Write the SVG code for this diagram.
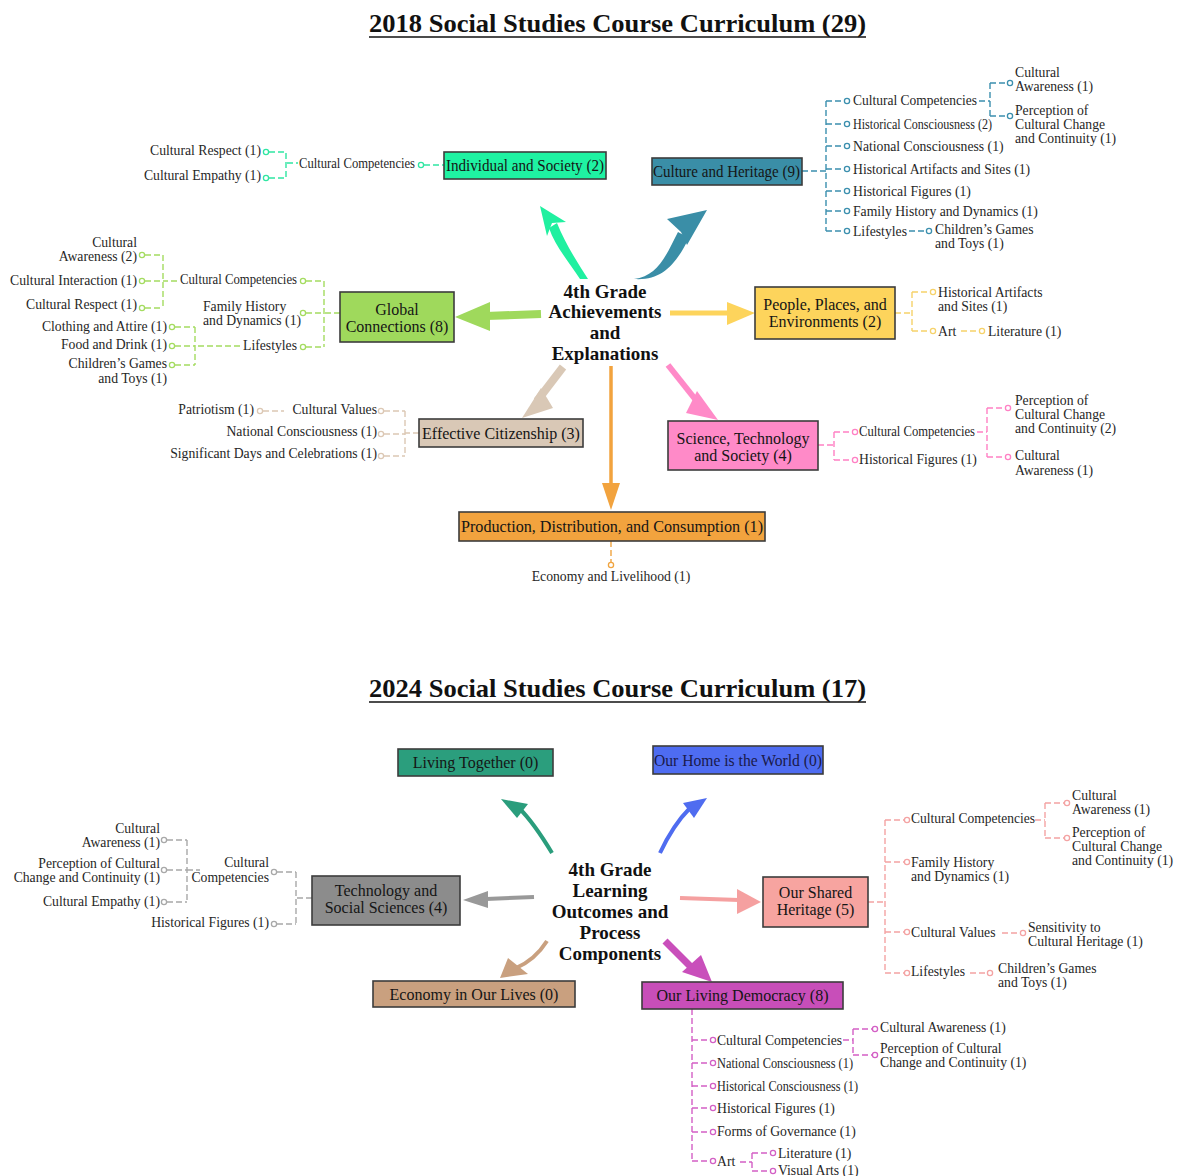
<svg xmlns="http://www.w3.org/2000/svg" width="1179" height="1176" viewBox="0 0 1179 1176">
<style>
text{font-family:"Liberation Serif","Times New Roman",serif;fill:#262626}
.t{font-size:13.7px}
.e{text-anchor:end}
.m{text-anchor:middle}
.b{font-size:16px;fill:#151515}
.h{font-weight:bold;font-size:19px;fill:#111;text-anchor:middle}
.ti{font-weight:bold;font-size:26px;fill:#111}
.box{stroke:#3c3c3c;stroke-width:1.6}
.d{fill:none;stroke-width:1.4;stroke-dasharray:6 3}
.o{fill:#fff;stroke-width:1.3}
.s1{stroke:#2fe6a2}.s2{stroke:#3b8fae}.s3{stroke:#a4dc60}.s4{stroke:#f6d26a}.s5{stroke:#dcc8b4}.s6{stroke:#ff80c4}.s7{stroke:#f0a440}
.s9{stroke:#a8a8a8}.s10{stroke:#f4a3a3}.s12{stroke:#d35fc5}
</style>

<!-- Titles -->
<g id="title-2018">
<text class="ti" x="369" y="32" textLength="497" lengthAdjust="spacingAndGlyphs">2018 Social Studies Course Curriculum (29)</text>
<line x1="369" y1="37" x2="866" y2="37" stroke="#111" stroke-width="1.6"/>
</g>
<g id="title-2024">
<text class="ti" x="369" y="697" textLength="497" lengthAdjust="spacingAndGlyphs">2024 Social Studies Course Curriculum (17)</text>
<line x1="369" y1="702" x2="866" y2="702" stroke="#111" stroke-width="1.6"/>
</g>

<g id="connectors">
<!-- 2018 arrows -->
<path d="M580,279 C569,262 555,246 549,228 L557,223 C565,243 577,262 588,279 Z" fill="#20f0a0"/>
<polygon points="540,206 566,222 552,223 547,236" fill="#20f0a0"/>
<path d="M634,279 C657,276 665,258 678,232 L689,238 C676,264 662,281 634,279 Z" fill="#3a8ea7"/>
<polygon points="707,210 667,219 681,232 687,245" fill="#3a8ea7"/>
<path d="M541,314 L486,316" stroke="#9fd95c" stroke-width="8" fill="none"/>
<polygon points="455,317 490,302 490,331" fill="#9fd95c"/>
<path d="M670,313 L729,313" stroke="#fdd45c" stroke-width="5" fill="none"/>
<polygon points="755,313 727,302 727,325" fill="#fdd45c"/>
<path d="M563,367 L537,401" stroke="#d9c8b6" stroke-width="8" fill="none"/>
<polygon points="522,418 541,388 553,408" fill="#d9c8b6"/>
<path d="M611,366 V486" stroke="#f2a33e" stroke-width="3.5" fill="none"/>
<polygon points="611,510 602,483 620,483" fill="#f2a33e"/>
<path d="M668,365 L699,404" stroke="#ff8ac8" stroke-width="6" fill="none"/>
<polygon points="718,420 697,391 686,413" fill="#ff8ac8"/>

<!-- 2018 branches -->
<path class="d s1" d="M424,165H444 M287,163H298 M269,152H286V178H269"/>
<circle class="o s1" cx="421" cy="165" r="2.6"/><circle class="o s1" cx="266" cy="152" r="2.6"/><circle class="o s1" cx="266" cy="178" r="2.6"/>

<path class="d s3" d="M340,313H324 M324,281V347 M306,281H324 M306,313H324 M306,347H324 M177,281H163 M163,255V308 M145,255H163 M145,281H163 M145,308H163 M240,346H195 M195,327V365 M175,327H195 M175,346H195 M175,365H195"/>
<circle class="o s3" cx="303" cy="281" r="2.6"/><circle class="o s3" cx="303" cy="313" r="2.6"/><circle class="o s3" cx="303" cy="347" r="2.6"/>
<circle class="o s3" cx="142" cy="255" r="2.6"/><circle class="o s3" cx="142" cy="281" r="2.6"/><circle class="o s3" cx="142" cy="308" r="2.6"/>
<circle class="o s3" cx="172" cy="327" r="2.6"/><circle class="o s3" cx="172" cy="346" r="2.6"/><circle class="o s3" cx="172" cy="365" r="2.6"/>

<path class="d s2" d="M802,171H826 M826,101V231 M826,101H844 M826,124H844 M826,146H844 M826,169H844 M826,191H844 M826,211H844 M826,231H844 M909,231H926 M979,101H990 M990,83V116 M990,83H1007 M990,116H1007"/>
<circle class="o s2" cx="847" cy="101" r="2.6"/><circle class="o s2" cx="847" cy="124" r="2.6"/><circle class="o s2" cx="847" cy="146" r="2.6"/><circle class="o s2" cx="847" cy="169" r="2.6"/><circle class="o s2" cx="847" cy="191" r="2.6"/><circle class="o s2" cx="847" cy="211" r="2.6"/><circle class="o s2" cx="847" cy="231" r="2.6"/>
<circle class="o s2" cx="929" cy="231" r="2.6"/><circle class="o s2" cx="1010" cy="83" r="2.6"/><circle class="o s2" cx="1010" cy="116" r="2.6"/>

<path class="d s4" d="M895,313H912 M912,292V331 M912,292H930 M912,331H930 M961,331H979"/>
<circle class="o s4" cx="933" cy="292" r="2.6"/><circle class="o s4" cx="933" cy="331" r="2.6"/><circle class="o s4" cx="982" cy="331" r="2.6"/>

<path class="d s5" d="M419,433H405 M405,411V456 M384,411H405 M384,434H405 M384,456H405 M263,411H284"/>
<circle class="o s5" cx="381" cy="411" r="2.6"/><circle class="o s5" cx="381" cy="434" r="2.6"/><circle class="o s5" cx="381" cy="456" r="2.6"/><circle class="o s5" cx="260" cy="411" r="2.6"/>

<path class="d s6" d="M818,445H834 M834,432V460 M834,432H852 M834,460H852 M977,432H987 M987,408V457 M987,408H1005 M987,457H1005"/>
<circle class="o s6" cx="855" cy="432" r="2.6"/><circle class="o s6" cx="855" cy="460" r="2.6"/><circle class="o s6" cx="1008" cy="408" r="2.6"/><circle class="o s6" cx="1008" cy="457" r="2.6"/>

<path class="d s7" d="M611,541V562"/>
<circle class="o s7" cx="611" cy="565" r="2.6"/>

<!-- 2024 arrows -->
<path d="M552,853 C543,838 533,822 519,808" stroke="#2a9d7c" stroke-width="4" fill="none"/>
<polygon points="501,799 528,804 517,818" fill="#2a9d7c"/>
<path d="M660,853 C667,838 676,822 690,808" stroke="#4f6cf0" stroke-width="4" fill="none"/>
<polygon points="707,798 683,803 694,818" fill="#4f6cf0"/>
<path d="M534,897 L486,899" stroke="#999" stroke-width="4" fill="none"/>
<polygon points="463,900 488,891 488,908" fill="#999"/>
<path d="M680,898 L739,900" stroke="#f5a0a0" stroke-width="4" fill="none"/>
<polygon points="761,902 737,889 737,914" fill="#f5a0a0"/>
<path d="M547,941 C540,952 530,962 516,968" stroke="#c9a07f" stroke-width="4" fill="none"/>
<polygon points="500,978 508,958 528,974" fill="#c9a07f"/>
<path d="M665,941 L692,968" stroke="#c94fbb" stroke-width="7" fill="none"/>
<polygon points="712,982 701,955 682,972" fill="#c94fbb"/>

<!-- 2024 branches -->
<path class="d s9" d="M312,898H296 M296,872V924 M277,872H296 M277,924H296 M187,870H200 M187,840V902 M167,840H187 M167,870H187 M167,902H187"/>
<circle class="o s9" cx="274" cy="872" r="2.6"/><circle class="o s9" cx="274" cy="924" r="2.6"/><circle class="o s9" cx="164" cy="840" r="2.6"/><circle class="o s9" cx="164" cy="870" r="2.6"/><circle class="o s9" cx="164" cy="902" r="2.6"/>

<path class="d s10" d="M868,902H885 M885,820V973 M885,820H904 M885,862H904 M885,932H904 M885,973H904 M1002,933H1020 M970,973H987 M1035,820H1045 M1045,803V838 M1045,803H1064 M1045,838H1064"/>
<circle class="o s10" cx="907" cy="820" r="2.6"/><circle class="o s10" cx="907" cy="862" r="2.6"/><circle class="o s10" cx="907" cy="932" r="2.6"/><circle class="o s10" cx="907" cy="973" r="2.6"/>
<circle class="o s10" cx="1023" cy="933" r="2.6"/><circle class="o s10" cx="990" cy="973" r="2.6"/><circle class="o s10" cx="1067" cy="803" r="2.6"/><circle class="o s10" cx="1067" cy="838" r="2.6"/>

<path class="d s12" d="M692,1009V1161 M692,1040H710 M692,1063H710 M692,1086H710 M692,1108H710 M692,1132H710 M692,1161H710 M843,1040H853 M853,1029V1055 M853,1029H872 M853,1055H872 M740,1162H752 M752,1153V1171 M752,1153H770 M752,1171H770"/>
<circle class="o s12" cx="713" cy="1040" r="2.6"/><circle class="o s12" cx="713" cy="1063" r="2.6"/><circle class="o s12" cx="713" cy="1086" r="2.6"/><circle class="o s12" cx="713" cy="1108" r="2.6"/><circle class="o s12" cx="713" cy="1132" r="2.6"/><circle class="o s12" cx="713" cy="1161" r="2.6"/>
<circle class="o s12" cx="875" cy="1029" r="2.6"/><circle class="o s12" cx="875" cy="1055" r="2.6"/><circle class="o s12" cx="773" cy="1153" r="2.6"/><circle class="o s12" cx="773" cy="1171" r="2.6"/>
</g>

<!-- 2018 nodes -->
<g id="center-2018">
<text class="h" x="605" y="298">4th Grade</text>
<text class="h" x="605" y="318">Achievements</text>
<text class="h" x="605" y="339">and</text>
<text class="h" x="605" y="360">Explanations</text>
</g>

<g id="individual-society">
<rect class="box" x="444" y="152" width="162" height="27" fill="#1ff2a2"/>
<text class="b" x="446" y="171" textLength="158" lengthAdjust="spacingAndGlyphs">Individual and Society (2)</text>
</g>
<g id="individual-leaves">
<text class="t e" x="415" y="168" textLength="116" lengthAdjust="spacingAndGlyphs">Cultural Competencies</text>
<text class="t e" x="261" y="155">Cultural Respect (1)</text>
<text class="t e" x="261" y="180">Cultural Empathy (1)</text>
</g>

<g id="culture-heritage">
<rect class="box" x="652" y="158" width="150" height="27" fill="#3a8ea7"/>
<text class="b" x="653" y="177" textLength="147" lengthAdjust="spacingAndGlyphs">Culture and Heritage (9)</text>
</g>
<g id="culture-leaves">
<text class="t" x="853" y="104.5" textLength="124" lengthAdjust="spacingAndGlyphs">Cultural Competencies</text>
<text class="t" x="853" y="128.5" textLength="139" lengthAdjust="spacingAndGlyphs">Historical Consciousness (2)</text>
<text class="t" x="853" y="150.5">National Consciousness (1)</text>
<text class="t" x="853" y="173.5">Historical Artifacts and Sites (1)</text>
<text class="t" x="853" y="195.5">Historical Figures (1)</text>
<text class="t" x="853" y="215.5">Family History and Dynamics (1)</text>
<text class="t" x="853" y="235.5">Lifestyles</text>
<text class="t" x="935" y="234">Children’s Games</text>
<text class="t" x="935" y="248">and Toys (1)</text>
<text class="t" x="1015" y="77">Cultural</text>
<text class="t" x="1015" y="91">Awareness (1)</text>
<text class="t" x="1015" y="115">Perception of</text>
<text class="t" x="1015" y="129">Cultural Change</text>
<text class="t" x="1015" y="143">and Continuity (1)</text>
</g>

<g id="global-connections">
<rect class="box" x="340" y="292" width="114" height="50" fill="#9fd95c"/>
<text class="b m" x="397" y="314.5">Global</text>
<text class="b m" x="397" y="331.5">Connections (8)</text>
</g>
<g id="global-leaves">
<text class="t e" x="297" y="283.5" textLength="117" lengthAdjust="spacingAndGlyphs">Cultural Competencies</text>
<text class="t" x="203" y="310.5">Family History</text>
<text class="t" x="203" y="324.5">and Dynamics (1)</text>
<text class="t e" x="297" y="349.5">Lifestyles</text>
<text class="t e" x="137" y="246.5">Cultural</text>
<text class="t e" x="137" y="260.5">Awareness (2)</text>
<text class="t e" x="137" y="285">Cultural Interaction (1)</text>
<text class="t e" x="137" y="308.5">Cultural Respect (1)</text>
<text class="t e" x="167" y="330.5">Clothing and Attire (1)</text>
<text class="t e" x="167" y="348.5">Food and Drink (1)</text>
<text class="t e" x="167" y="367.5">Children’s Games</text>
<text class="t e" x="167" y="382.5">and Toys (1)</text>
</g>

<g id="people-places">
<rect class="box" x="755" y="287" width="140" height="52" fill="#fdd45c"/>
<text class="b m" x="825" y="310">People, Places, and</text>
<text class="b m" x="825" y="327">Environments (2)</text>
</g>
<g id="people-leaves">
<text class="t" x="938" y="296.5">Historical Artifacts</text>
<text class="t" x="938" y="310.5">and Sites (1)</text>
<text class="t" x="938" y="335.5">Art</text>
<text class="t" x="988" y="335.5">Literature (1)</text>
</g>

<g id="effective-citizenship">
<rect class="box" x="419" y="419" width="164" height="28" fill="#d9c8b6"/>
<text class="b m" x="501" y="439">Effective Citizenship (3)</text>
</g>
<g id="effective-leaves">
<text class="t e" x="377" y="413.5">Cultural Values</text>
<text class="t e" x="254" y="413.5">Patriotism (1)</text>
<text class="t e" x="377" y="436">National Consciousness (1)</text>
<text class="t e" x="377" y="458">Significant Days and Celebrations (1)</text>
</g>

<g id="science-technology">
<rect class="box" x="668" y="421" width="150" height="49" fill="#ff8ac8"/>
<text class="b m" x="743" y="444">Science, Technology</text>
<text class="b m" x="743" y="461">and Society (4)</text>
</g>
<g id="science-leaves">
<text class="t" x="859" y="436" textLength="116" lengthAdjust="spacingAndGlyphs">Cultural Competencies</text>
<text class="t" x="859" y="464">Historical Figures (1)</text>
<text class="t" x="1015" y="405">Perception of</text>
<text class="t" x="1015" y="419">Cultural Change</text>
<text class="t" x="1015" y="433">and Continuity (2)</text>
<text class="t" x="1015" y="460">Cultural</text>
<text class="t" x="1015" y="475">Awareness (1)</text>
</g>

<g id="production">
<rect class="box" x="459" y="512" width="306" height="29" fill="#f2a33e"/>
<text class="b" x="461" y="531.5" textLength="302" lengthAdjust="spacingAndGlyphs">Production, Distribution, and Consumption (1)</text>
</g>
<g id="production-leaves">
<text class="t m" x="611" y="580.5">Economy and Livelihood (1)</text>
</g>

<!-- 2024 nodes -->
<g id="center-2024">
<text class="h" x="610" y="876">4th Grade</text>
<text class="h" x="610" y="897">Learning</text>
<text class="h" x="610" y="918">Outcomes and</text>
<text class="h" x="610" y="939">Process</text>
<text class="h" x="610" y="960">Components</text>
</g>

<g id="living-together">
<rect class="box" x="398" y="749" width="155" height="27" fill="#2b9e7d"/>
<text class="b m" x="475.5" y="767.5">Living Together (0)</text>
</g>
<g id="our-home">
<rect class="box" x="653" y="746" width="170" height="28" fill="#4e6cf1"/>
<text class="b" x="654" y="765.5" textLength="168" lengthAdjust="spacingAndGlyphs" style="fill:#1a1a4a">Our Home is the World (0)</text>
</g>
<g id="technology-social">
<rect class="box" x="312" y="876" width="148" height="49" fill="#8c8c8c"/>
<text class="b m" x="386" y="896">Technology and</text>
<text class="b m" x="386" y="912.5">Social Sciences (4)</text>
</g>
<g id="technology-leaves">
<text class="t e" x="269" y="867">Cultural</text>
<text class="t e" x="269" y="881.5">Competencies</text>
<text class="t e" x="269" y="927">Historical Figures (1)</text>
<text class="t e" x="160" y="832.5">Cultural</text>
<text class="t e" x="160" y="846.5">Awareness (1)</text>
<text class="t e" x="160" y="867.5">Perception of Cultural</text>
<text class="t e" x="160" y="882">Change and Continuity (1)</text>
<text class="t e" x="160" y="906">Cultural Empathy (1)</text>
</g>
<g id="shared-heritage">
<rect class="box" x="763" y="877" width="105" height="50" fill="#f7a4a0"/>
<text class="b m" x="815.5" y="897.5">Our Shared</text>
<text class="b m" x="815.5" y="914.5">Heritage (5)</text>
</g>
<g id="shared-leaves">
<text class="t" x="911" y="822.5" textLength="124" lengthAdjust="spacingAndGlyphs">Cultural Competencies</text>
<text class="t" x="911" y="866.5">Family History</text>
<text class="t" x="911" y="880.5">and Dynamics (1)</text>
<text class="t" x="911" y="937">Cultural Values</text>
<text class="t" x="1028" y="931.5">Sensitivity to</text>
<text class="t" x="1028" y="946">Cultural Heritage (1)</text>
<text class="t" x="911" y="975.5">Lifestyles</text>
<text class="t" x="998" y="972.5">Children’s Games</text>
<text class="t" x="998" y="986.5">and Toys (1)</text>
<text class="t" x="1072" y="799.5">Cultural</text>
<text class="t" x="1072" y="813.5">Awareness (1)</text>
<text class="t" x="1072" y="836.5">Perception of</text>
<text class="t" x="1072" y="850.5">Cultural Change</text>
<text class="t" x="1072" y="864.5">and Continuity (1)</text>
</g>
<g id="economy-lives">
<rect class="box" x="373" y="981" width="202" height="26" fill="#c9a07f"/>
<text class="b m" x="474" y="999.5">Economy in Our Lives (0)</text>
</g>
<g id="living-democracy">
<rect class="box" x="642" y="982" width="201" height="27" fill="#c84eb9"/>
<text class="b m" x="742.5" y="1001">Our Living Democracy (8)</text>
</g>
<g id="democracy-leaves">
<text class="t" x="717" y="1044.5" textLength="125" lengthAdjust="spacingAndGlyphs">Cultural Competencies</text>
<text class="t" x="717" y="1067.5" textLength="136" lengthAdjust="spacingAndGlyphs">National Consciousness (1)</text>
<text class="t" x="717" y="1090.5" textLength="141" lengthAdjust="spacingAndGlyphs">Historical Consciousness  (1)</text>
<text class="t" x="717" y="1112.5">Historical Figures (1)</text>
<text class="t" x="717" y="1136">Forms of Governance (1)</text>
<text class="t" x="717" y="1165.5">Art</text>
<text class="t" x="778" y="1157.5">Literature (1)</text>
<text class="t" x="778" y="1174.5">Visual Arts (1)</text>
<text class="t" x="880" y="1031.5">Cultural Awareness (1)</text>
<text class="t" x="880" y="1052.5">Perception of Cultural</text>
<text class="t" x="880" y="1066.5">Change and Continuity (1)</text>
</g>
</svg>
